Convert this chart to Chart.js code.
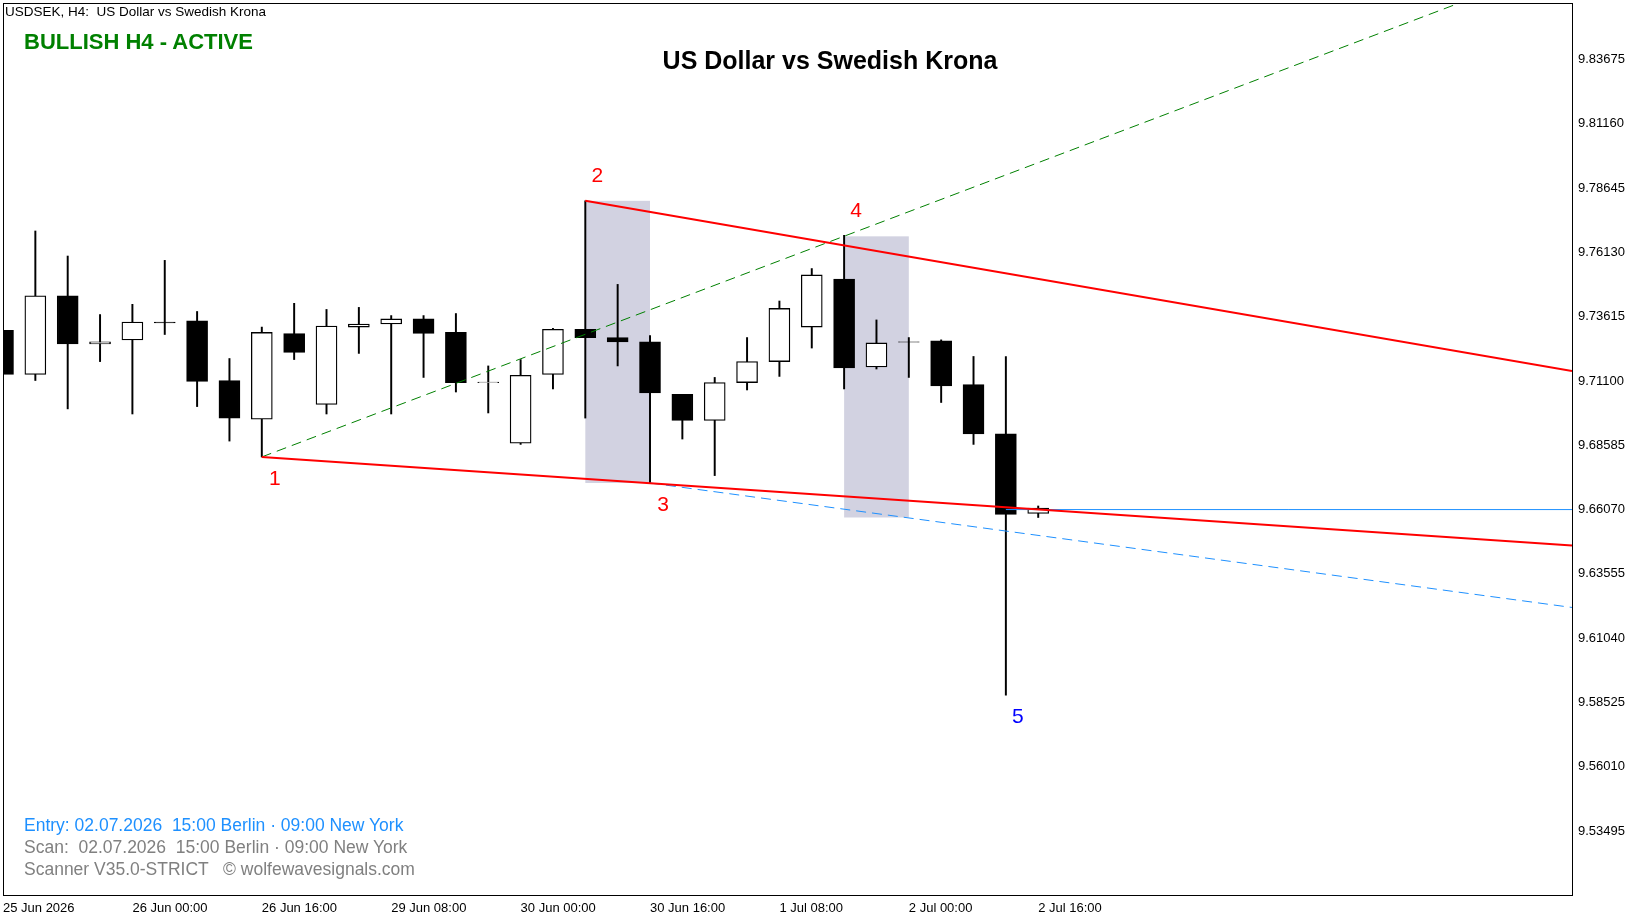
<!DOCTYPE html>
<html><head><meta charset="utf-8">
<script src="https://cdn.jsdelivr.net/npm/chart.js@4.4.1/dist/chart.umd.min.js"></script>
<style>
html,body{margin:0;padding:0;background:#fff;}
#wrap{position:relative;width:1632px;height:918px;font-family:"Liberation Sans",Arial,sans-serif;}
canvas{position:absolute;left:0;top:0;}
.t{position:absolute;white-space:pre;}
</style></head><body>
<div id="wrap">
<canvas id="c" width="1632" height="918"></canvas>
<div class="t" style="left:5px;top:4px;font-size:13.5px;color:#000;">USDSEK, H4:  US Dollar vs Swedish Krona</div>
<div class="t" style="left:24px;top:29px;font-size:22px;font-weight:bold;color:#008000;">BULLISH H4 - ACTIVE</div>
<div class="t" style="left:0;width:1660px;text-align:center;top:46px;font-size:25px;font-weight:bold;color:#000;">US Dollar vs Swedish Krona</div>
<div class="t" style="left:24px;top:815px;font-size:17.5px;color:#1E90FF;">Entry: 02.07.2026  15:00 Berlin · 09:00 New York</div>
<div class="t" style="left:24px;top:837px;font-size:17.5px;color:#808080;">Scan:  02.07.2026  15:00 Berlin · 09:00 New York</div>
<div class="t" style="left:24px;top:859px;font-size:17.5px;color:#808080;">Scanner V35.0-STRICT   © wolfewavesignals.com</div>
</div>
<script>
const opens  = [9.7308,9.7136,9.7443,9.7255,9.7271,9.7341,9.7345,9.7112,9.6961,9.7296,9.7018,9.7321,9.7333,9.7353,9.7300,9.7104,9.6867,9.7136,9.7312,9.7280,9.7263,9.7058,9.6956,9.7104,9.7186,9.7321,9.7509,9.7165,9.7263,9.7267,9.7096,9.6903,9.6592];
const highs  = [9.7333,9.7697,9.7599,9.7370,9.7410,9.7582,9.7382,9.7198,9.7321,9.7414,9.7390,9.7398,9.7366,9.7366,9.7374,9.7169,9.7194,9.7316,9.7815,9.7488,9.7288,9.7058,9.7124,9.7280,9.7423,9.7550,9.7680,9.7349,9.7280,9.7271,9.7206,9.7206,9.6621];
const lows   = [9.7108,9.7112,9.7001,9.7186,9.6981,9.7292,9.7010,9.6875,9.6813,9.7194,9.6981,9.7218,9.6981,9.7124,9.7067,9.6985,9.6862,9.7079,9.6965,9.7169,9.6711,9.6883,9.6740,9.7075,9.7128,9.7239,9.7079,9.7157,9.7124,9.7026,9.6862,9.5881,9.6576];
const closes = [9.7136,9.7443,9.7255,9.7263,9.7341,9.7337,9.7108,9.6965,9.7300,9.7222,9.7325,9.7333,9.7353,9.7296,9.7104,9.7106,9.7132,9.7312,9.7280,9.7263,9.7063,9.6956,9.7104,9.7186,9.7394,9.7525,9.7161,9.7259,9.7262,9.7091,9.6903,9.6588,9.6613];
const xTickPos = [0,4,8,12,16,20,24,28,32];
const xTickLabels = ["25 Jun 2026","26 Jun 00:00","26 Jun 16:00","29 Jun 08:00","30 Jun 00:00","30 Jun 16:00","1 Jul 08:00","2 Jul 00:00","2 Jul 16:00"];
const yTicks = [9.53495,9.56010,9.58525,9.61040,9.63555,9.66070,9.68585,9.71100,9.73615,9.76130,9.78645,9.81160,9.83675];
const wavePoints = [{n:"1",x:8,y:9.6813},{n:"2",x:18,y:9.7815},{n:"3",x:20,y:9.6711},{n:"4",x:26,y:9.7680},{n:"5",x:31,y:9.5881}];
const upperLine = [{x:18,y:9.7815},{x:48.5,y:9.7149}];
const lowerLine = [{x:8,y:9.6813},{x:48.5,y:9.6466}];
const greenLine = [{x:8,y:9.6813},{x:45,y:9.8588}];
const blueDash  = [{x:20,y:9.6711},{x:48.5,y:9.6224}];
const entryLine = [{x:31,y:9.6607},{x:48.5,y:9.6607}];
const zones = [{x0:18,x1:20,y0:9.6711,y1:9.7815},{x0:26,x1:28,y0:9.6576,y1:9.7676}];

const idx = opens.map((_,i)=>i);
const bodyColors = idx.map(i=>closes[i]<opens[i]?'#000':'#fff');

const overlay = {
  id:'overlay',
  beforeDatasetsDraw(chart){
    const {ctx,scales:{x,y}} = chart;
    ctx.save(); ctx.fillStyle='rgba(210,210,225,1)';
    zones.forEach(z=>{
      const l=x.getPixelForValue(z.x0), r=x.getPixelForValue(z.x1);
      ctx.fillRect(l,y.getPixelForValue(z.y1),r-l,y.getPixelForValue(z.y0)-y.getPixelForValue(z.y1));
    });
    ctx.restore();
  },
  afterDatasetsDraw(chart){
    const {ctx,scales:{x,y},chartArea:a} = chart;
    ctx.save();
    ctx.font='21px "Liberation Sans", Arial';
    ctx.textAlign='center';
    const off={ "1":[13,12],"2":[12,-14],"3":[13,12],"4":[12,-14],"5":[12,12]};
    wavePoints.forEach(p=>{
      ctx.fillStyle = p.n==="5"?'#0000FF':'#FF0000';
      ctx.textBaseline = off[p.n][1]<0?'bottom':'top';
      ctx.fillText(p.n, x.getPixelForValue(p.x)+off[p.n][0], y.getPixelForValue(p.y)+off[p.n][1]);
    });
    ctx.strokeStyle='#000'; ctx.lineWidth=1;
    ctx.strokeRect(a.left+0.5,a.top+0.5,a.right-a.left,a.bottom-a.top);
    ctx.restore();
  }
};

const lineDs = (data,color,width,dash)=>({type:'line',data,borderColor:color,borderWidth:width,borderDash:dash,pointRadius:0,fill:false,tension:0,order:0});

new Chart(document.getElementById('c'),{
  type:'bar',
  data:{datasets:[
    lineDs(upperLine,'#FF0000',2,[]),
    lineDs(lowerLine,'#FF0000',2,[]),
    lineDs(greenLine,'#008000',1,[10,6]),
    lineDs(blueDash,'#1E90FF',1,[10,6]),
    lineDs(entryLine,'#1E90FF',1,[]),
    {type:'bar',data:idx.map(i=>({x:i,y:[closes[i],opens[i]]})),backgroundColor:bodyColors,borderColor:'#000',borderWidth:1.3,borderSkipped:false,barThickness:21,grouped:false,order:1},
    {type:'bar',data:idx.map(i=>({x:i,y:[lows[i],highs[i]]})),backgroundColor:'#000',borderWidth:0,barThickness:1.3,grouped:false,order:2}
  ]},
  options:{
    responsive:false,animation:false,
    layout:{padding:{left:3,top:3,right:0,bottom:0}},
    plugins:{legend:{display:false},tooltip:{enabled:false}},
    scales:{
      x:{type:'linear',min:0,max:48.5,offset:false,
        grid:{display:false,drawTicks:true,tickLength:4,color:'#000'},border:{display:false},
        afterBuildTicks(s){s.ticks=xTickPos.map(v=>({value:v}));},
        afterFit(s){s.height=23;s.paddingLeft=0;s.paddingRight=0;},
        ticks:{autoSkip:false,maxRotation:0,align:'start',padding:2,color:'#000',font:{family:'"Liberation Sans", Arial',size:13},
          callback:(v)=>xTickLabels[xTickPos.indexOf(v)]}},
      y:{position:'right',min:9.5099,max:9.8589,
        grid:{display:false,drawTicks:true,tickLength:4,color:'#000'},border:{display:false},
        afterBuildTicks(s){s.ticks=yTicks.map(v=>({value:v}));},
        afterFit(s){s.width=60;s.paddingTop=0;s.paddingBottom=0;},
        ticks:{autoSkip:false,padding:2,color:'#000',font:{family:'"Liberation Sans", Arial',size:13},callback:v=>v.toFixed(5)}}
    }
  },
  plugins:[overlay]
});
</script>
</body></html>
